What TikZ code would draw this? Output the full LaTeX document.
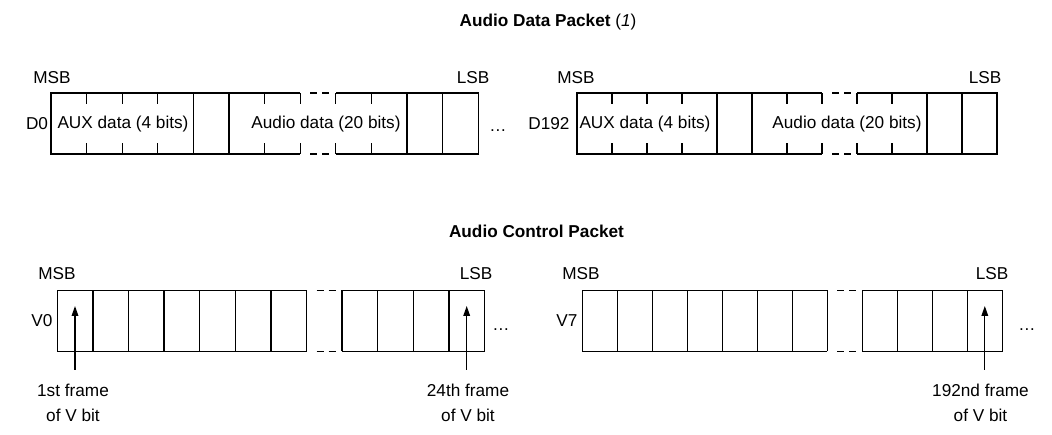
\documentclass[tikz,border=0pt]{standalone}
\usepackage{fontspec}
\setmainfont{Liberation Sans}
\usetikzlibrary{arrows.meta}
\begin{document}
\begin{tikzpicture}[x=0.75pt, y=0.75pt,
      lbl/.style={inner sep=0pt, font=\fontsize{12.9}{18.75}\selectfont},
      ttl/.style={lbl, font=\fontsize{12.9}{15}\selectfont\bfseries},
      reg/.style={line width=1pt},
      gap/.style={reg, dash pattern=on 5.25pt off 3.75pt},
      frm/.style={lbl, align=center, anchor=north, inner ysep=10.5pt},
      vbit/.style={line width=0.9pt, -{Triangle[length=7.5pt,width=5pt]}}
    ]
    \useasboundingbox (0,0) rectangle (1052,435);
    % outline of all four registers: left x / bottom y / cell width
    \foreach \ox/\oy/\w in {51/281/35.6, 577/281/35, 57.3/83.5/35.6, 582.3/83.5/35} {
      \draw[reg] (\ox+7*\w,\oy+61) -- (\ox,\oy+61) -- (\ox,\oy) -- (\ox+7*\w,\oy);
      \draw[reg] (\ox+8*\w,\oy) -- (\ox+12*\w,\oy) -- (\ox+12*\w,\oy+61) -- (\ox+8*\w,\oy+61);
      \draw[gap] (\ox+7*\w+10,\oy) -- (\ox+7*\w+29,\oy) (\ox+7*\w+10,\oy+61) -- (\ox+7*\w+29,\oy+61);
    }
    % data packet: field borders and bit ticks
    \foreach \ox/\w in {51/35.6, 577/35} {
      \foreach \i in {4,5,10,11}
        \draw[reg] (\ox+\i*\w,281) -- (\ox+\i*\w,342);
      \foreach \i in {1,2,3,6,7,8,9}
        \draw[reg] (\ox+\i*\w,281) -- (\ox+\i*\w,292) (\ox+\i*\w,331) -- (\ox+\i*\w,342);
    }
    % control packet: one cell per frame
    \foreach \ox/\w in {57.3/35.6, 582.3/35} {
      \foreach \i in {1,...,11}
        \draw[reg] (\ox+\i*\w,83.5) -- (\ox+\i*\w,144.5);
    }
    \node[ttl] (dtitle) at (548,413) {Audio Data Packet {\mdseries(\textit{1})}};
    \node[ttl] (ctitle) at (536.5,204) {Audio Control Packet};
    % data packet
    \node[lbl] (msb1) at (52,357.5) {MSB};
    \node[lbl] (lsb1) at (473,357.5) {LSB};
    \node[lbl] (msb2) at (576,357.5) {MSB};
    \node[lbl] (lsb2) at (985,357.5) {LSB};
    \node[lbl] (d0) at (37,311.3) {D0};
    \node[lbl] (d192) at (549,311.3) {D192};
    \node[lbl] (aux1) at (123,311.3) {AUX data (4 bits)};
    \node[lbl] (aud1) at (326,311.3) {Audio data (20 bits)};
    \node[lbl] (aux2) at (645,311.3) {AUX data (4 bits)};
    \node[lbl] (aud2) at (847,311.3) {Audio data (20 bits)};
    \node[lbl, anchor=base] (more1) at (498,303) {\ldots};
    % control packet
    \node[lbl] (msb3) at (57,161) {MSB};
    \node[lbl] (lsb3) at (476,161) {LSB};
    \node[lbl] (msb4) at (581,161) {MSB};
    \node[lbl] (lsb4) at (992,161) {LSB};
    \node[lbl] (v0) at (42,114) {V0};
    \node[lbl] (v7) at (567,114) {V7};
    \node[lbl, anchor=base] (more2) at (501,104) {\ldots};
    \node[lbl, anchor=base] (more3) at (1027,104) {\ldots};
    \node[frm] (f1) at (73,65) {1st frame\\of V bit};
    \node[frm] (f2) at (468,65) {24th frame\\of V bit};
    \node[frm] (f3) at (980.5,65) {192nd frame\\of V bit};
    \coordinate (t1) at (75,129);
    \coordinate (t2) at (466.7,129);
    \coordinate (t3) at (984.8,129);
    \draw[vbit] (f1.north -| t1) -- (t1);
    \draw[vbit] (f2.north -| t2) -- (t2);
    \draw[vbit] (f3.north -| t3) -- (t3);
  \end{tikzpicture}
\end{document}
